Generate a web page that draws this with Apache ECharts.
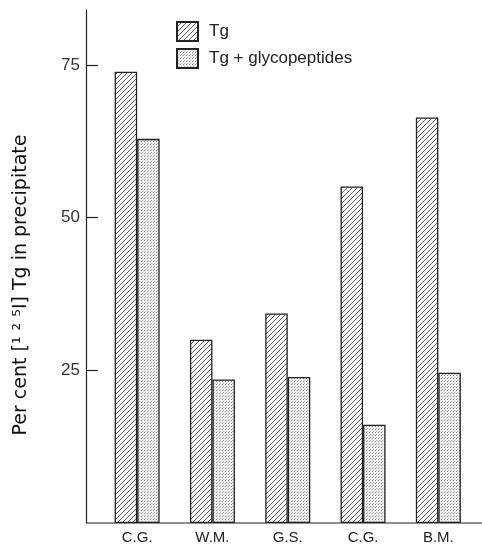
<!DOCTYPE html>
<html><head><meta charset="utf-8">
<script src="https://cdn.jsdelivr.net/npm/echarts@6/dist/echarts.min.js"></script>
<style>html,body{margin:0;padding:0;background:#fff}#c{width:482px;height:546px}</style>
</head><body><div id="c"></div>
<script>
const categories = ['C.G.', 'W.M.', 'G.S.', 'C.G.', 'B.M.'];
const tgValues = [73.9, 30.0, 34.3, 55.1, 66.4];
const tgGlycoValues = [62.9, 23.5, 23.9, 16.1, 24.6];
const yTicks = [25, 50, 75];
const seriesNames = ['Tg', 'Tg + glycopeptides'];

function hatch() {
  const s = 5, c = document.createElement('canvas');
  c.width = s; c.height = s;
  const g = c.getContext('2d');
  g.fillStyle = '#fff'; g.fillRect(0, 0, s, s);
  g.strokeStyle = '#333'; g.lineWidth = 0.8;
  g.beginPath();
  g.moveTo(-1, s + 1); g.lineTo(s + 1, -1);
  g.moveTo(-1, 1); g.lineTo(1, -1);
  g.moveTo(s - 1, s + 1); g.lineTo(s + 1, s - 1);
  g.stroke();
  return c;
}
function stipple() {
  const c = document.createElement('canvas');
  c.width = 3; c.height = 3;
  const g = c.getContext('2d');
  g.fillStyle = '#eeeeee'; g.fillRect(0, 0, 3, 3);
  g.fillStyle = '#8a8a8a'; g.fillRect(0, 0, 1, 1);
  g.fillStyle = '#b5b5b5'; g.fillRect(1, 2, 1, 1);
  return c;
}

const chart = echarts.init(document.getElementById('c'));
const font = 'Liberation Sans';
chart.setOption({
  animation: false,
  textStyle: { fontFamily: font },
  legend: {
    orient: 'vertical', left: 171, top: 16,
    itemWidth: 21, itemHeight: 19, itemGap: 6,
    icon: 'rect',
    textStyle: { fontSize: 17, color: '#222', fontFamily: font, padding: [0, 0, 0, 6] },
    data: seriesNames
  },
  grid: { left: 99.5, right: 6, top: 10, bottom: 23 },
  xAxis: {
    type: 'category', data: categories,
    axisLine: { show: false }, axisTick: { show: false },
    axisLabel: { margin: 7, fontSize: 15, color: '#222', fontFamily: font }
  },
  yAxis: {
    type: 'value', min: 0, max: 84, interval: 25,
    offset: 13.5,
    splitLine: { show: false },
    axisLine: { show: true, lineStyle: { color: '#222', width: 1.2 } },
    axisTick: { show: true, inside: true, length: 12, customValues: yTicks, lineStyle: { color: '#222', width: 1.2 } },
    axisLabel: { margin: 6, fontSize: 17, color: '#333', customValues: yTicks, fontFamily: font },
    name: 'Per cent [¹ ² ⁵I] Tg in precipitate',
    nameLocation: 'middle', nameRotate: 90, nameGap: 55,
    nameTextStyle: { fontSize: 19, fontWeight: 500, color: '#111', fontFamily: 'DejaVu Sans', padding: [0, 37, 0, 0] }
  },
  series: [
    {
      name: seriesNames[0], type: 'bar', data: tgValues, barWidth: 22.5, barGap: '0%',
      itemStyle: { color: { image: hatch(), repeat: 'repeat' }, borderColor: '#222', borderWidth: 1.3 }
    },
    {
      name: seriesNames[1], type: 'bar', data: tgGlycoValues, barWidth: 22.5,
      itemStyle: { color: { image: stipple(), repeat: 'repeat' }, borderColor: '#222', borderWidth: 1.3 }
    }
  ]
});
const y0 = chart.convertToPixel({ yAxisIndex: 0 }, 0);
chart.setOption({
  graphic: [{
    type: 'line', shape: { x1: 86, y1: y0, x2: 482, y2: y0 },
    style: { stroke: '#222', lineWidth: 1.2 }, z: 10
  }]
});
</script></body></html>
